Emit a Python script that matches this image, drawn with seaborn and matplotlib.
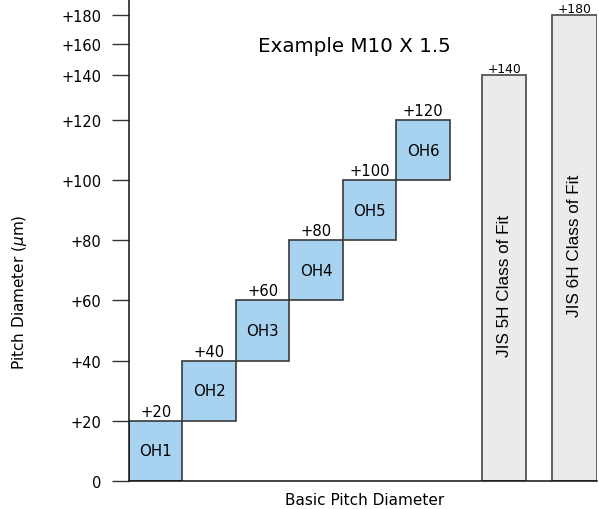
import numpy as np
import matplotlib
matplotlib.use("Agg")
import matplotlib.pyplot as plt
import matplotlib.transforms as mtransforms
import seaborn as sns

# ---- data ----
oh_labels = ["OH1", "OH2", "OH3", "OH4", "OH5", "OH6"]
oh_lower = [0, 20, 40, 60, 80, 100]
oh_upper = [20, 40, 60, 80, 100, 120]
jis_labels = ["JIS 5H Class of Fit", "JIS 6H Class of Fit"]
jis_upper = [140, 180]
ytick_values = [0, 20, 40, 60, 80, 100, 120, 140, 160, 180]
ytick_labels = ["0", "+20", "+40", "+60", "+80", "+100", "+120", "+140", "+160", "+180"]
title_text = "Example M10 X 1.5"
xlabel_text = "Basic Pitch Diameter"
ylabel_text = r"Pitch Diameter ($\mu$m)"

sns.set_style("white")
plt.rcParams["font.family"] = ["DejaVu Sans"]
plt.rcParams["text.color"] = "black"
plt.rcParams["axes.labelcolor"] = "black"
plt.rcParams["ytick.labelcolor"] = "black"

# piecewise-linear (compressed above 120) axis scale
_knots_v = np.array([-100.0, 0.0, 120.0, 140.0, 160.0, 180.0, 240.0])
_knots_p = np.array([-300.0, 0.0, 361.0, 406.0, 437.0, 466.0, 553.0])

def fwd(v):
    return np.interp(v, _knots_v, _knots_p)

def inv(p):
    return np.interp(p, _knots_p, _knots_v)

fig = plt.figure(figsize=(5.99, 5.10), dpi=100)
ax = fig.add_axes([129 / 599, 28 / 510, 468 / 599, 482 / 510])
ax.set_yscale("function", functions=(fwd, inv))

blue = "#A7D3F0"
grey = "#EBEBEB"

# OH boxes
n = len(oh_labels)
xs = np.arange(n)
heights = np.array(oh_upper) - np.array(oh_lower)
ax.bar(xs, heights, bottom=oh_lower, width=1.0, align="edge",
       color=blue, edgecolor="#3a3a3a", linewidth=1.2, zorder=2)
for x, lo, hi, lab in zip(xs, oh_lower, oh_upper, oh_labels):
    ax.text(x + 0.5, (lo + hi) / 2, lab, ha="center", va="center", fontsize=10.8)
    ax.annotate(f"+{hi}", (x + 0.5, hi), xytext=(0, 1.5), textcoords="offset points",
                ha="center", va="bottom", fontsize=10.6)

# JIS bars
jis_left = [6.6, 7.905]
jis_width = [0.83, 0.845]
ax.bar(jis_left, jis_upper, width=jis_width, align="edge",
       color=grey, edgecolor="#555555", linewidth=1.3, zorder=2)
jis_text_y = [0.407, 0.49]
trans = mtransforms.blended_transform_factory(ax.transData, ax.transAxes)
for l, w, top, lab, ty in zip(jis_left, jis_width, jis_upper, jis_labels, jis_text_y):
    ax.text(l + w / 2, ty, lab, transform=trans, rotation=90, ha="center", va="center",
            fontsize=12.3, family=["Liberation Sans"])
    ax.annotate(f"+{top}", (l + w / 2, top), xytext=(0, 0), textcoords="offset points",
                ha="center", va="bottom", fontsize=8.9)

ax.set_xlim(0, 8.75)
ax.set_ylim(0, 191)
ax.set_yticks(ytick_values)
ax.set_yticklabels(ytick_labels, fontsize=10.5)
ax.set_xticks([])
ax.tick_params(axis="y", direction="out", length=12.2, width=1.0, color="#333333",
               pad=7.5, left=True, labelcolor="black")

for s in ["top", "right"]:
    ax.spines[s].set_visible(False)
for s in ["left", "bottom"]:
    ax.spines[s].set_color("#111111")
    ax.spines[s].set_linewidth(1.1)

ax.set_xlabel(xlabel_text, fontsize=11.0)
ax.xaxis.set_label_coords((365 - 129) / 468, -11 / 482)
ax.set_ylabel(ylabel_text, fontsize=11.0)
ax.yaxis.set_label_coords((20 - 129) / 468, (482 - 292) / 482)
ax.yaxis.label.set_va("center")

fig.text(354.5 / 599, 1 - 47 / 510, title_text, ha="center", va="center", fontsize=14.3)

fig.savefig("out.png", dpi=100)
